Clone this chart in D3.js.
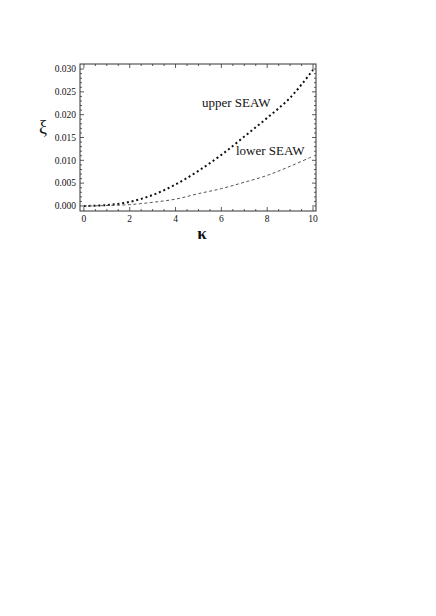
<!DOCTYPE html>
<html>
<head>
<meta charset="utf-8">
<script src="https://cdn.jsdelivr.net/npm/d3@7"></script>
<style>
  body { margin: 0; background: #fff; }
  svg text { font-family: "Liberation Serif", "Times New Roman", serif; fill: #111; }
</style>
</head>
<body>
<script>
//chart values
var kappa = [0, 1, 2, 3, 4, 5, 6, 7, 8, 9, 10];
var upperSeaw = [0, 0.0002, 0.0009, 0.0024, 0.0047, 0.0077, 0.0112, 0.0152, 0.0193, 0.0237, 0.0298];
var lowerSeaw = [0, 0.0001, 0.0003, 0.0008, 0.0015, 0.0027, 0.0038, 0.0052, 0.0067, 0.0087, 0.0109];
var xTicks = [0, 2, 4, 6, 8, 10];
var yTicks = [0, 0.005, 0.010, 0.015, 0.020, 0.025, 0.030];

(function(){

var width = 436, height = 616;
var pLeft = 80, pRight = 316, pTop = 64, pBottom = 211;

var svg = d3.select("body").append("svg")
  .attr("width", width)
  .attr("height", height);

var x = d3.scaleLinear().domain([-0.17, 10.13]).range([pLeft, pRight]);
var y = d3.scaleLinear().domain([-0.0011, 0.0311]).range([pBottom, pTop]);

//frame
svg.append("rect")
  .attr("x", pLeft).attr("y", pTop)
  .attr("width", pRight - pLeft).attr("height", pBottom - pTop)
  .attr("fill", "none").attr("stroke", "#333").attr("stroke-width", 1);

//ticks on all sides, pointing inward
var xMinor = d3.range(0, 10.01, 0.5);
var yMinor = d3.range(0, 0.03001, 0.001);
function tickLen(v, majors, eps){
  return majors.some(function(m){ return Math.abs(m - v) < eps; }) ? 4 : 2;
}
var ticks = svg.append("g").attr("stroke", "#333").attr("stroke-width", 0.8);
xMinor.forEach(function(v){
  var l = tickLen(v, xTicks, 1e-6), px = x(v);
  ticks.append("line").attr("x1", px).attr("x2", px).attr("y1", pBottom).attr("y2", pBottom - l);
  ticks.append("line").attr("x1", px).attr("x2", px).attr("y1", pTop).attr("y2", pTop + l);
});
yMinor.forEach(function(v){
  var l = tickLen(v, yTicks, 1e-7), py = y(v);
  ticks.append("line").attr("x1", pLeft).attr("x2", pLeft + l).attr("y1", py).attr("y2", py);
  ticks.append("line").attr("x1", pRight).attr("x2", pRight - l).attr("y1", py).attr("y2", py);
});

//tick labels
svg.selectAll(".xlab").data(xTicks).enter().append("text")
  .attr("class", "xlab")
  .attr("x", function(d){ return x(d); })
  .attr("y", 222)
  .attr("text-anchor", "middle")
  .style("font-size", "9.5px")
  .text(function(d){ return d; });

svg.selectAll(".ylab").data(yTicks).enter().append("text")
  .attr("class", "ylab")
  .attr("x", 76)
  .attr("y", function(d){ return y(d) + 3.3; })
  .attr("text-anchor", "end")
  .style("font-size", "9.5px")
  .text(function(d){ return d3.format(".3f")(d); });

//axis labels
svg.append("text")
  .attr("x", 202).attr("y", 239)
  .attr("text-anchor", "middle")
  .style("font-size", "17px")
  .style("font-weight", "bold")
  .text("κ");

svg.append("text")
  .attr("x", 43).attr("y", 133)
  .attr("text-anchor", "middle")
  .style("font-size", "18px")
  .text("ξ");

//curves
var line = d3.line()
  .x(function(d){ return x(d[0]); })
  .y(function(d){ return y(d[1]); })
  .curve(d3.curveCatmullRom);

svg.append("path")
  .datum(d3.zip(kappa, upperSeaw))
  .attr("d", line)
  .attr("fill", "none")
  .attr("stroke", "#111")
  .attr("stroke-width", 2)
  .attr("stroke-dasharray", "2,2.8");

svg.append("path")
  .datum(d3.zip(kappa, lowerSeaw))
  .attr("d", line)
  .attr("fill", "none")
  .attr("stroke", "#555")
  .attr("stroke-width", 1)
  .attr("stroke-dasharray", "3,2.5");

//curve labels
svg.append("text")
  .attr("x", 202).attr("y", 107)
  .style("font-size", "13px")
  .text("upper SEAW");

svg.append("text")
  .attr("x", 236).attr("y", 155)
  .style("font-size", "13px")
  .text("lower SEAW");

})();
</script>
</body>
</html>
